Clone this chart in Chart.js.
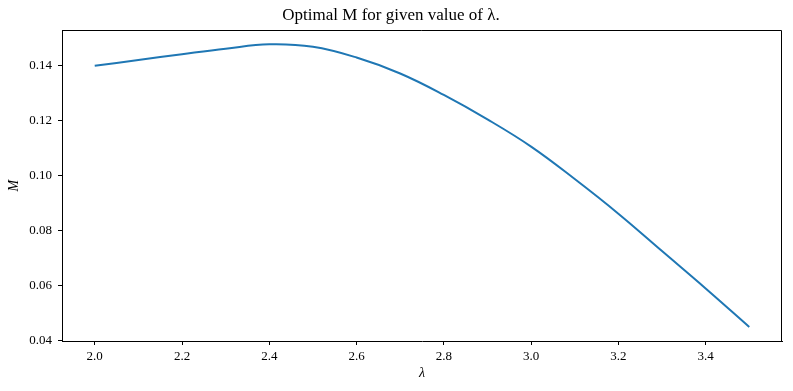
<!DOCTYPE html>
<html>
<head>
<meta charset="utf-8">
<script src="https://cdn.jsdelivr.net/npm/chart.js@4/dist/chart.umd.min.js"></script>
<style>
  html, body { margin: 0; padding: 0; background: #fff; }
  #wrap { width: 793px; height: 391px; }
</style>
</head>
<body>
<div id="wrap"><canvas id="c" width="793" height="391"></canvas></div>
<script>
const lambdaValues = [2.0, 2.1, 2.2, 2.3, 2.4, 2.5, 2.6, 2.7, 2.8, 2.9, 3.0, 3.1, 3.2, 3.3, 3.4, 3.5];
const optimalM     = [0.1400, 0.1421, 0.1442, 0.1462, 0.1478, 0.1469, 0.1430, 0.1372, 0.1294, 0.1205, 0.1106, 0.0988, 0.0862, 0.0726, 0.0590, 0.0450];
const xTickValues = [2.0, 2.2, 2.4, 2.6, 2.8, 3.0, 3.2, 3.4];
const yTickValues = [0.04, 0.06, 0.08, 0.10, 0.12, 0.14];

const serif = "'Liberation Serif', 'DejaVu Serif', serif";

const framePlugin = {
  id: 'frame',
  afterDraw(chart) {
    const {ctx, chartArea: a} = chart;
    const t = Math.round(a.top) + 0.5, r = Math.round(a.right) - 0.5;
    ctx.save();
    ctx.strokeStyle = '#000';
    ctx.lineWidth = 1;
    ctx.beginPath();
    ctx.moveTo(a.left, t);
    ctx.lineTo(r, t);
    ctx.lineTo(r, a.bottom);
    ctx.stroke();
    ctx.restore();
  }
};

new Chart(document.getElementById('c'), {
  type: 'line',
  data: {
    datasets: [{
      data: lambdaValues.map((x, i) => ({x: x, y: optimalM[i]})),
      borderColor: '#1f77b4',
      borderWidth: 2,
      pointRadius: 0,
      fill: false,
      tension: 0.4
    }]
  },
  options: {
    responsive: false,
    animation: false,
    devicePixelRatio: 1,
    layout: { padding: { left: 0, right: 11, top: 0, bottom: 0 } },
    plugins: {
      legend: { display: false },
      tooltip: { enabled: false },
      title: {
        display: true,
        text: 'Optimal M for given value of λ.',
        color: '#000',
        font: { family: serif, size: 17, weight: 'normal' },
        padding: { top: 5, bottom: 5 }
      }
    },
    scales: {
      x: {
        type: 'linear',
        min: 1.925,
        max: 3.575,
        afterBuildTicks: s => { s.ticks = xTickValues.map(v => ({value: v})); },
        afterFit: s => { s.height = 50; },
        grid: { drawOnChartArea: false, drawTicks: true, tickLength: 4, color: '#000' },
        border: { display: true, color: '#000', width: 1 },
        ticks: {
          color: '#000',
          padding: 4,
          maxRotation: 0,
          font: { family: serif, size: 13 },
          callback: v => Number(v).toFixed(1)
        },
        title: {
          display: true,
          text: 'λ',
          color: '#000',
          font: { family: serif, size: 14, style: 'italic' },
          padding: { top: 0, bottom: 9 }
        }
      },
      y: {
        type: 'linear',
        min: 0.03987,
        max: 0.15287,
        afterBuildTicks: s => { s.ticks = yTickValues.map(v => ({value: v})); },
        afterFit: s => { s.width = 62; },
        grid: { drawOnChartArea: false, drawTicks: true, tickLength: 4, color: '#000' },
        border: { display: true, color: '#000', width: 1 },
        ticks: {
          color: '#000',
          padding: 6,
          font: { family: serif, size: 13 },
          callback: v => Number(v).toFixed(2)
        },
        title: {
          display: true,
          text: 'M',
          color: '#000',
          font: { family: serif, size: 14, style: 'italic' },
          padding: { top: 6, bottom: 0 }
        }
      }
    }
  },
  plugins: [framePlugin]
});
</script>
</body>
</html>
